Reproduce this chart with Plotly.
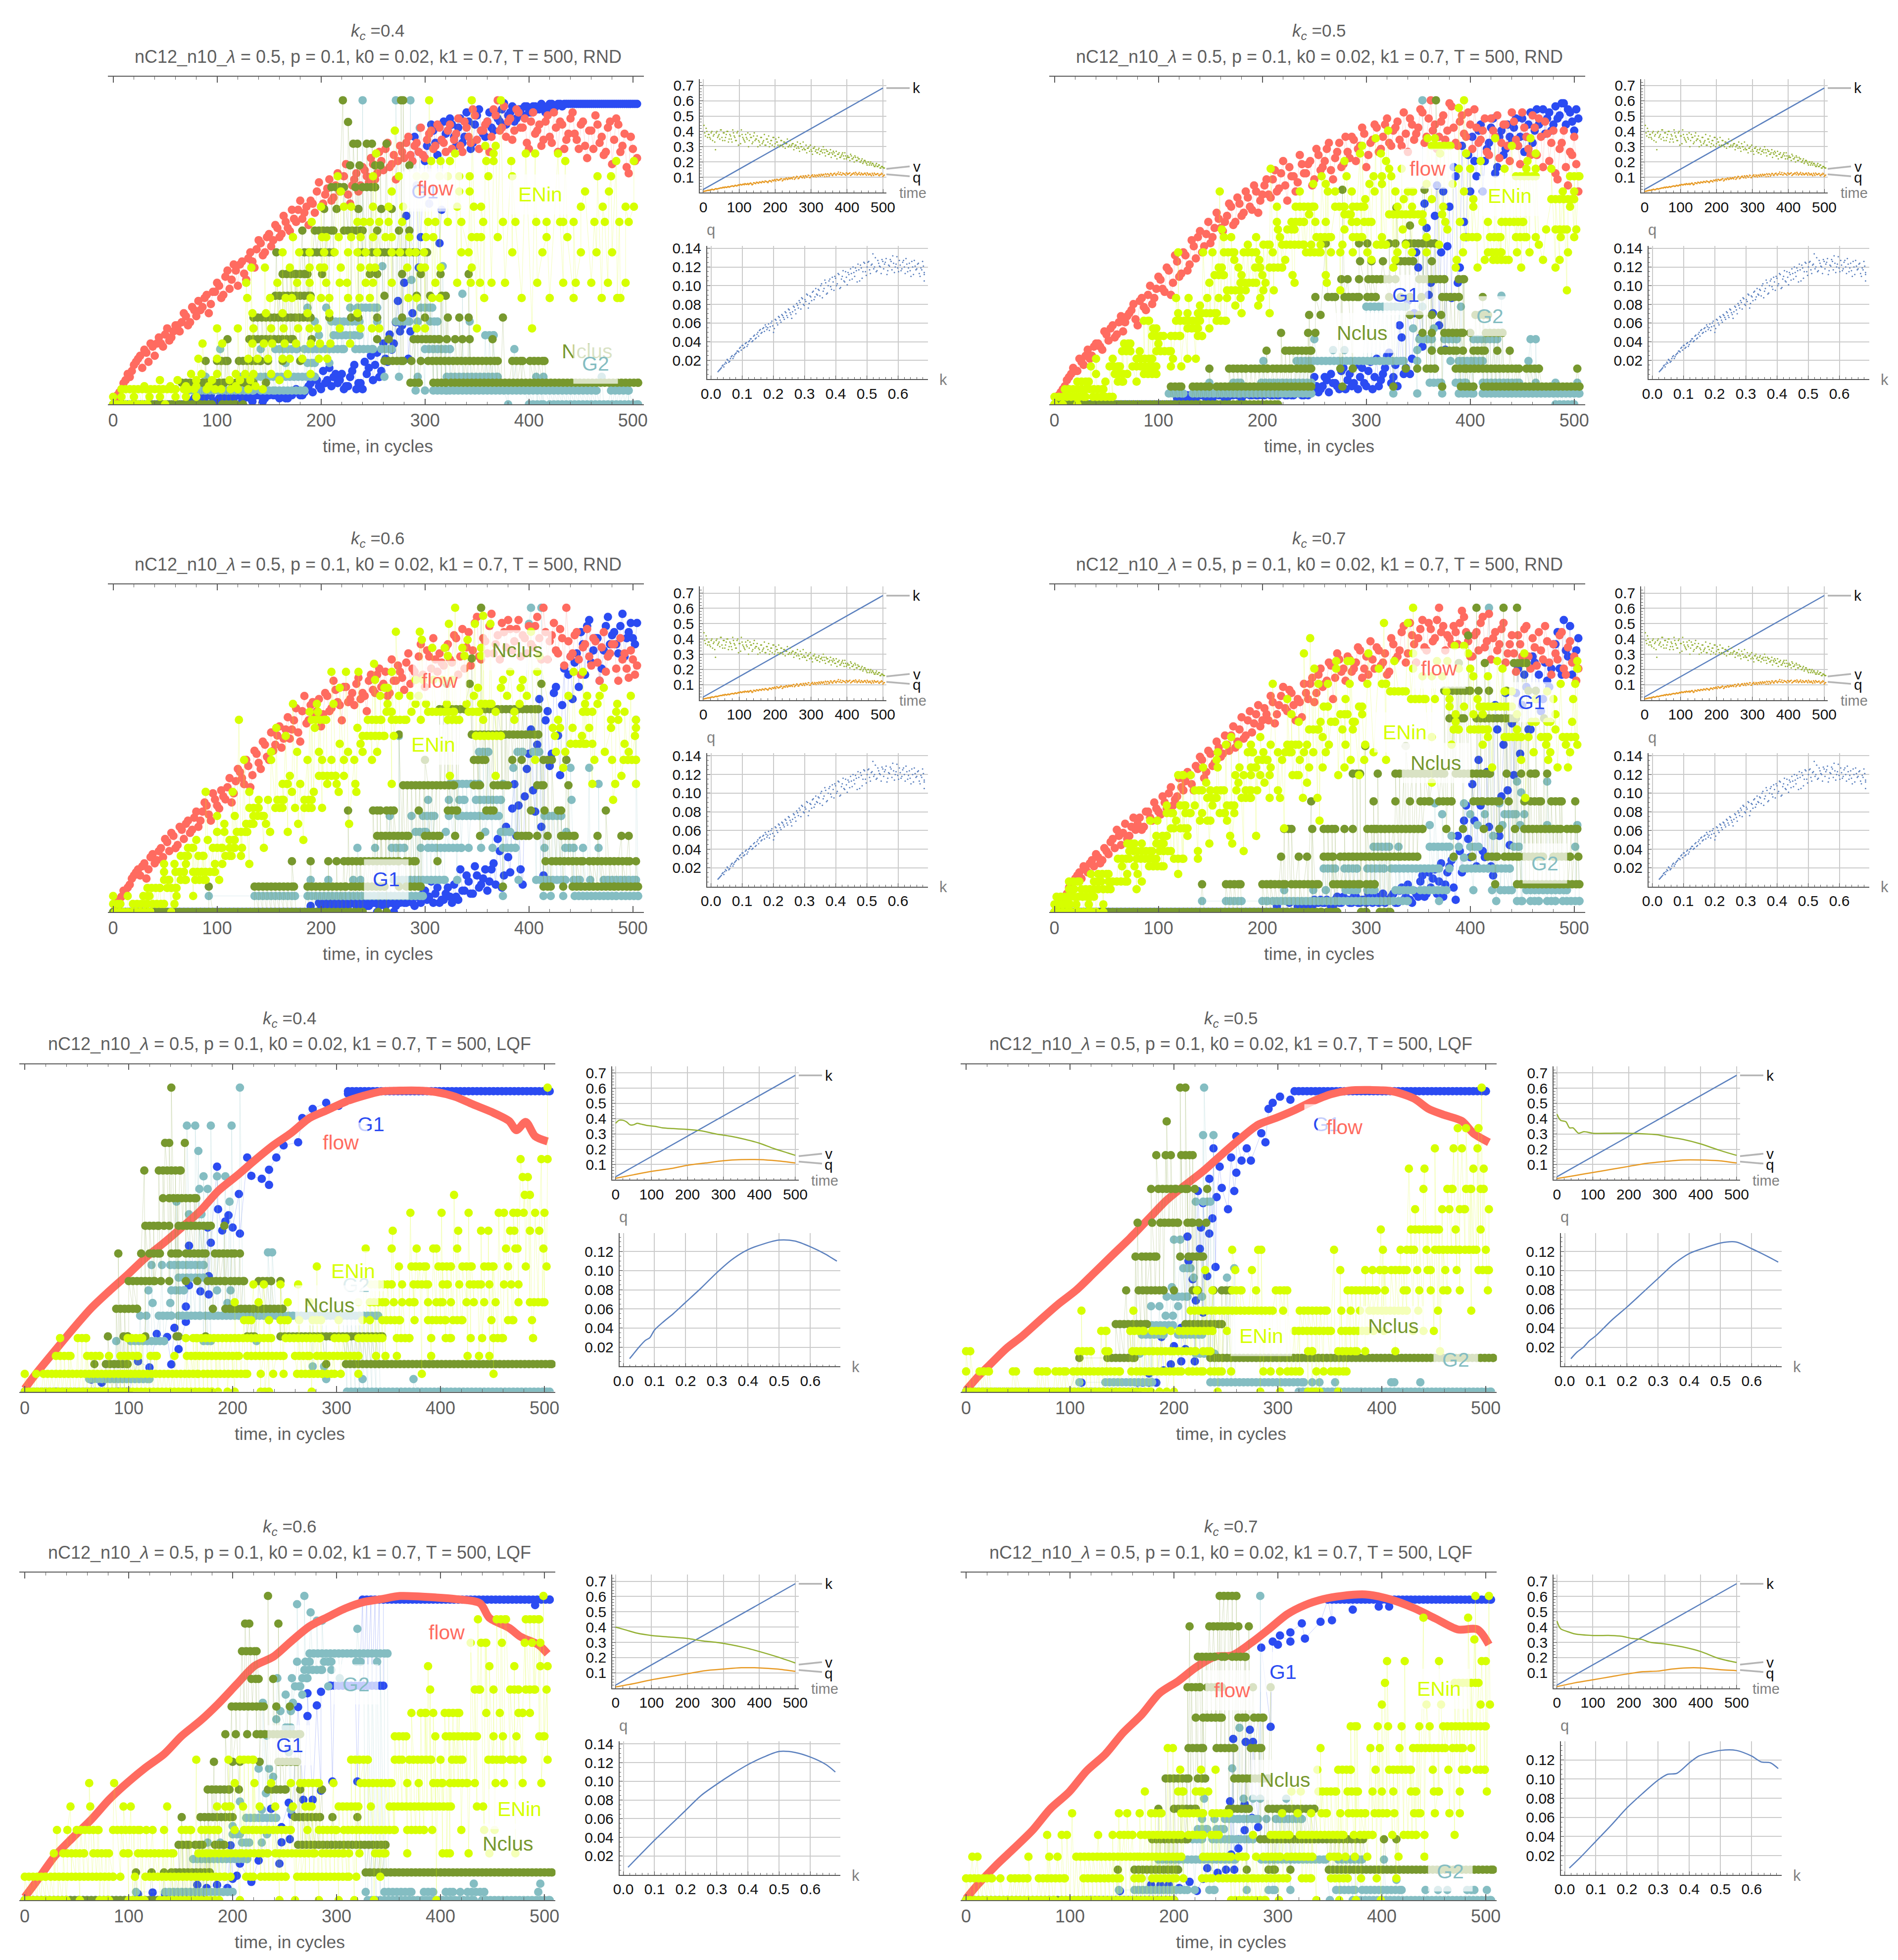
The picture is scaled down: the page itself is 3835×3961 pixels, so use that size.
import numpy as np
import plotly.graph_objects as go

W, H = 3835, 3961
PAGE = 8  # the page's own body margin
T4 = list(range(2, 506, 4))
T4B = list(range(4, 508, 4))
K_T = [0, 500]
K_Y = [0.02, 0.684]

# ---------- RND runs: flow and G1 (share of each series' maximum, %)
A_flow = [2,4,7,10,11,14,16,18,14,19, 20,20,23,21,24,26,27,29,27,31, 34,32,36,33,37,39,36,44,41,44,
46,43,48,47,51,53,50,56,54,58, 56,60,57,61,64,61,65,67,63,73, 66,71,67,72,70,75,69,72,76,72,
77,73,79,76,80,84,78,82,80,83, 86,82,85,83,82,87,90,85,91,86, 90,84,89,85,93,88,97,87,90,92,
83,97,100,91,88,94,90,96,91,86, 93,89,92,87,95,86,91,93,84,89, 96,87,92,85,90,84,92,88,83,93, 87,92,85,78,88,80]
A_flow2 = [3,5,8,9,13,15,12,17,20,16, 22,19,25,22,26,24,30,26,32,29, 31,35,30,37,40,35,42,38,46,39,
47,41,50,45,54,49,55,52,59,55, 62,58,64,60,67,63,59,66,70,65, 69,74,68,76,71,79,66,74,70,78,
75,81,74,83,77,86,79,74,85,81, 88,80,86,91,81,89,84,92,87,83, 92,87,94,83,91,86,95,84,90,93,
88,95,90,98,93,87,97,91,94,84, 96,90,85,93,88,96,83,92,87,94, 89,84,93,81,90,95,86,82,91,79, 94,83,89,76,84,81]
B_flow = [2,4,6,9,12,11,14,16,15,19, 20,18,23,25,22,27,24,29,31,28, 34,32,36,33,38,41,37,44,40,47,
43,49,46,52,55,50,56,53,58,61, 57,62,65,60,66,63,68,64,70,67, 72,69,74,70,76,72,78,75,73,79,
76,80,74,82,78,84,77,81,86,79, 83,88,80,85,89,82,87,91,84,92, 86,90,93,85,89,94,87,91,96,88,
100,92,88,95,90,98,86,93,89,96, 84,91,87,94,82,90,95,86,92,80, 93,85,96,88,82,91,94,78,89,86, 76,84,90,72,82,79]
B_flow2 = [3,5,8,10,11,15,13,18,16,20, 19,24,21,26,23,29,27,30,33,26, 35,31,39,35,42,38,45,36,49,42,
50,44,54,48,57,52,60,55,63,58, 60,66,59,68,62,70,65,72,63,69, 74,68,77,71,80,67,75,70,82,76,
79,72,84,77,80,86,74,83,78,88, 81,87,84,91,78,86,92,83,88,94, 85,91,87,96,83,92,89,97,86,94,
90,84,93,87,99,91,85,95,88,92, 97,86,90,83,94,88,81,92,85,96, 87,79,91,84,95,82,88,93,80,90, 74,86,78,83,88,70]
C_flow = [2,4,7,8,11,13,12,16,14,19, 17,21,24,20,25,22,27,29,26,31, 28,33,35,30,37,34,38,41,36,43,
46,42,48,45,52,47,55,50,53,58, 54,60,57,63,59,66,62,68,64,70, 65,71,67,73,68,74,69,72,75,70,
71,76,73,78,74,79,72,76,81,77, 82,75,79,84,78,86,80,83,85,81, 88,82,90,84,80,92,86,97,83,89,
94,85,91,95,87,93,89,96,91,85, 88,94,90,100,83,91,86,93,81,89, 85,92,78,88,84,90,82,87,79,85, 88,76,83,80,86,78]
C_flow2 = [3,5,6,9,12,14,15,11,18,16, 20,18,23,26,21,28,24,30,27,33, 30,36,32,39,35,40,37,44,39,47,
44,50,41,53,49,56,51,59,55,61, 57,64,60,67,56,71,63,69,66,61, 72,66,76,69,63,74,70,68,77,72,
66,78,72,80,75,71,83,76,79,73, 85,80,77,88,74,84,90,79,82,87, 83,91,78,93,87,81,95,84,90,85,
98,88,83,92,96,86,93,84,90,94, 87,97,83,92,89,95,85,90,100,84, 91,83,87,93,81,89,76,92,84,88, 80,90,85,77,83,81]
D_flow = [2,3,5,8,10,12,11,14,16,15, 18,17,20,23,21,25,26,24,28,27, 31,28,33,30,34,32,36,39,35,38,
41,43,45,40,47,50,46,52,49,54, 52,55,58,54,60,57,63,59,65,61, 67,63,69,65,71,67,73,68,70,64,
72,75,69,78,74,76,81,77,83,80, 84,79,82,86,80,78,83,87,81,85, 79,88,84,92,82,95,88,90,96,86,
93,90,100,94,91,88,92,95,97,89, 84,92,95,87,98,90,86,93,82,88, 85,91,84,94,80,87,92,83,89,78, 85,91,80,87,82,76]
D_flow2 = [1,4,6,7,11,13,15,13,17,19, 16,21,19,24,27,22,29,25,31,29, 27,33,31,36,33,38,34,41,37,44,
40,46,42,48,51,44,53,48,56,51, 58,53,61,56,64,58,66,62,68,63, 65,71,62,68,74,66,72,63,69,75,
70,77,72,80,75,82,70,85,79,76, 83,80,87,77,84,89,80,86,82,78, 90,83,86,94,85,91,82,93,87,95,
89,96,92,86,90,94,88,99,92,84, 91,86,97,89,83,92,88,95,85,91, 79,88,93,84,90,81,86,94,82,88, 83,92,78,89,84,80]
A_g1 = [0,0,0,0,0,0,0,0,0,0, 0,0,0,0,0,0,0,0,1,2, 1,2,0,3,1,2,3,1,2,0, 3,2,3,1,3,4,2,3,3,4,
3,2,3,4,4,3,5,7,9,6, 11,8,6,10,8,5,6,11,5,7, 14,12,8,17,11,15,23,20,34,26, 62,24,88,45,71,85,92,86,53,93,
90,92,85,94,88,93,86,95,90,88, 96,90,94,97,92,96,93,97,95,98, 96,98,97,98,97,98.8,98,98.8,98.8,98.8,
98.8,98.8,98.8,98.8,98.8,98.8,98.8,98.8,98.8,98.8, 98.8,98.8,98.8,98.8,98.8,98.8]
A_g1_2 = [0]*20 + [2,1,3,1,0,2,3,1,2,3, 1,3,2,4,3,1,3,4,3,2, 4,2,3,5,3,4,6,4,8,5, 7,12,9,7,10,6,9,13,7,5,
10,16,13,9,20,14,18,27,24,40, 15,30,72,55,80,66,90,82,64,89, 94,88,91,86,96,84,92,97,89,93,
91,96,93,99,95,98,94,97,98,96, 98,97,98.8,96,98.8,97,98.8,98,98.8,98.8,
98.8,98.8,98.8,98.8,98.8,98.8,98.8,98.8,98.8,98.8, 98.8,98.8,98.8,98.8,98.8,98.8]
B_g1 = [0,0,0,0,0,0,0,0,0,0, 0,0,0,0,0,0,0,0,0,0, 0,0,0,0,0,0,0,0,0,2, 3,0,2,3,0,3,2,3,0,3,
3,2,3,4,3,3,4,3,3,4, 3,4,3,3,4,3,4,3,4,3, 4,5,9,4,6,8,10,7,5,12, 8,6,13,9,7,11,5,15,8,12,
17,9,6,22,12,10,30,45,19,58, 40,62,26,70,52,35,75,45,60,82, 88,75,92,80,86,94,78,90,84,88,
91,85,94,88,96,90,92,97,94,90, 98,95,99,97,93,97]
B_g1_2 = [0]*30 + [2,3,0,2,3,0,3,2,0,3, 2,4,3,3,2,4,3,4,3,3, 4,3,4,3,4,3,3,4,4,3, 3,4,6,5,9,4,7,6,11,5,
10,7,5,12,6,14,9,6,10,16, 7,13,26,10,34,15,50,22,66,36, 30,72,50,18,65,78,40,85,55,70,
80,90,70,84,91,76,88,82,92,86, 94,88,83,92,86,97,93,89,96,92, 94,99,92,96,90,94]
C_g1 = [0]*40 + [0,0,0,0,0,0,0,2,0,3, 2,3,3,2,3,3,2,3,2,3, 3,2,3,0,3,2,3,0,3,4, 3,4,2,5,6,4,10,6,3,4,
8,3,5,14,7,10,6,12,9,14, 10,16,24,8,28,13,42,35,9,47, 60,33,70,12,66,52,74,45,80,78,
70,85,92,78,96,86,90,80,94,88, 92,85,98,90,95,88]
C_g1_2 = [0]*48 + [0,2, 3,2,3,3,2,2,3,3,3,2, 2,3,3,2,3,3,3,2,3,3, 4,3,5,3,7,5,3,8,4,6,
5,9,4,7,12,6,15,8,11,7, 14,9,20,12,18,34,25,14,38,52, 40,55,28,63,48,72,58,68,50,84,
82,74,88,94,82,90,76,86,97,91, 88,94,84,92,90,95]
D_g1 = [0]*50 + [0,0,0,2,0,0,3,0,2,0, 2,3,4,3,3,4,2,4,3,5, 4,3,5,3,4,6,3,5,4,3,
4,6,3,8,5,4,7,5,12,6, 8,14,10,5,13,17,4,20,30,24, 42,15,35,18,28,12,60,38,72,22,
45,80,68,74,60,82,78,70,76,80, 88,80,96,84,78,86]
D_g1_2 = [0]*58 + [2,0, 3,2,3,4,3,3,2,5,3,4, 3,5,3,4,3,5,4,3,6,4, 5,3,7,4,9,3,6,10,5,13,
11,6,16,9,15,8,25,13,35,18, 30,50,20,46,15,68,25,55,40,62, 72,52,78,60,84,70,66,82,74,88,
92,78,86,94,82,90]

# ---------- discrete series: (level, [times or (first,last) runs])
A_nc_top = 14
A_nc = [(14,[221,277,279]),(13,[226]),(12,[231,235,244,249,263]),(11,[228,237,252,257,285]),
(10,[(210,222),233,(240,252)]),(9,[203,215,236,258,268]),(8,[182,(194,212),(222,240),254,275,285]),
(7,[157,(184,212),(236,243),(249,292),(300,302)]),(6,[(163,176),(180,187),201,247,254,278,296,315,342]),
(5,[(156,190),261,292,305,316,320]),(4,[(135,190),208,229,236,254,278,300,322,333,342,375]),
(3,[110,(131,173),191,254,265,(289,314),321,329,336,343,365]),
(2,[89,(100,110),(121,142),149,163,180,(261,279),287,296,(303,370),(384,394),(401,415)]),
(1,[(66,107),(114,135),147,(286,294),(308,320),(325,505)]),(0,[(0,95),(105,118),125])]
A_g2_top = 22
A_g2 = [(22,[240,272,286]),(20,[295]),(10,[259,317]),(9,[287]),(8,[336]),(7,[187,205,228,(235,254),296,(300,307)]),
(6,[194,(210,237),254,(272,285),293,(305,312),343]),(5,[198,(212,237),(358,366)]),
(4,[103,142,(156,177),(184,222),(233,250),(258,268),(300,324),386]),(3,[166,(187,194),208]),
(2,[89,(122,194),261,275,293,(321,370),407,414,470]),
(1,[(73,110),(114,135),(142,156),(160,184),291,300,(308,321),(324,465),(479,496)]),(0,[380,(400,414),(420,505)])]
A_en_top = 20
A_en = [(20,[304,345,373]),(18,[271]),(17,[358,368]),(16.5,[253,329,366,397,406,428]),
(16,[306,315,324,359,366,383,435,484,501]),(15,[216,250,275,292,300,314,322,333,343,361,384,466,479]),
(14,[219,268,294,333,343,454,477]),(13,[200,222,229,250,265,279,331,347,354,450,471,493,501]),
(12,[191,235,241,247,256,265,278,303,310,322,335,356,375,387,407,417,430,433,443,463,473,487,496]),
(11,[173,201,205,217,229,238,250,262,268,285,301,308,345,350,354,370,417,437]),
(10,[163,179,189,203,213,226,235,243,254,268,276,285,291,299,335,342,384,413,450,465,480]),
(9,[133,146,170,189,199,203,219,238,247,252,283,296,300,315,345]),
(8,[128,158,177,189,205,218,225,243,250,268,310,331,344,353,364,377,408,433,445,460,476,493]),
(7,[129,151,166,172,190,200,208,226,237,247,284,292,307,314,357,393,420,443,470,485,488]),
(6,[134,147,163,187,208,235]),(5,[100,120,135,152,164,178,189,197,218,238,249,256,292,300,350,403]),
(4,[86,105,134,145,153,165,176,190,199,209,228]),(3,[82,100,130,139,149,163,170,182,198,206]),
(2,[75,85,100,118,127,135,152,168,190]),(1.6,[45,62,80,95,112,122,132,160]),(1.2,[30,55,70,80,92,118,137]),
(1,[(8,60),(68,72),78,90,98,104,113,120,130,144]),(0.5,[0,8,20,35,45,60,70,80]),(0,[(0,33),50])]

B_nc_top = 17
B_nc = [(17,[367]),(12,[277,356]),(11,[329]),(10,[342]),(9,[261,293,301,322,328,(338,366)]),(8,[294,305,316,(329,345),363]),
(7,[276,282,293,(302,322),328,(351,375),(389,394)]),(6,[251,(263,270),(279,293),(301,309),322,333,342,353,(373,389),412]),
(5,[245,256,342,351,363,372,(405,417)]),(4,[218,244,251,354,363,(375,393),400,(415,431)]),
(3,[204,(222,247),363,(372,387),393,(403,414),426,438]),
(2,[149,(168,184),(189,205),(210,228),(233,247),275,287,338,349,(358,366),(386,396),(396,447),(454,466),503]),
(1,[(112,122),(133,149),(156,247),277,326,373,(391,403),(413,505)]),(0,[(0,215)])]
B_g2_top = 28
B_g2 = [(28,[354]),(10,[430]),(9,[(300,338),354,391]),(7,[345,365]),(6,[250,(351,363),(375,387),(403,426),458,463]),
(5,[268,279,349,363]),(4,[201,(233,336),349,381,(389,412),456]),
(2,[149,(172,179),(199,247),(361,372),(386,396),(412,447),463,482,503]),
(1,[(110,124),(133,177),(179,247),326,349,373,(389,403),(412,505)]),(0,[(482,500)])]
B_en_top = 40
B_en = [(40,[394]),(39,[389]),(36,[321]),(35,[309,359,366,424,458]),(34,[296,(363,381),440]),(33,[294,314,371,396,463]),
(32,[279,319,410,455]),(31,[208,322,334,389,400,433,454,463,478]),(30,[257,281,307,315,324,(444,463),(496,505)]),
(29,[249,261,303,315,358,383]),(28,[159,236,263,270,286,308,328,(340,345),394,489,500]),(27,[299,336,363,403,(478,500)]),
(26,[214,(232,250),(270,279),(287,298),330,344,374,403,496]),(25,[245,(279,285),(322,354),373]),
(24,[214,(228,240),251,261,286,291,(298,305),354,376,390,417,(430,451)]),(23,[161,215,(224,231),279,335,378,473,(482,493),502]),
(22,[163,170,194,217,(252,266),(287,296),315,358,(394,407),(419,429),(444,454),463,487,500]),
(21,[186,(201,207),(219,240),247,256,277,(310,319),338,370,466]),
(20,[119,143,152,(163,173),(182,194),210,(242,256),266,275,287,301,330,344,358,393,(417,430),445,457,494]),
(19,[173,197,222,305,328,387,414,(422,437),470,486]),(18,[(158,161),177,(193,198),(207,219),326,386,407,449,482]),
(17,[(154,163),180,200,229,261]),(16,[149,(179,194),203,231,262]),(15,[(166,179),184,201,211,275,493]),
(14,[117,129,147,158,166,179,198]),(13,[140,174,196]),(12,[119,128,(138,156),180,207]),(11,[(86,91),(117,140),(156,165)]),
(10,[(95,98),(128,138),149]),(9,[(94,105),(112,121),(138,142)]),(8,[(67,73),100]),(7,[(65,73),82,(98,112)]),
(6,[40,56,(79,94),114,128,136]),(5,[35,(53,63),(75,98),112,122]),(4,[40,(58,70),(86,98)]),(3,[(22,33),49,(61,66),79]),
(2,[(10,47)]),(1,[(0,30),(37,56)]),(0,[0,8,22])]

C_nc_top = 12
C_nc = [(12,[354]),(10,[345]),(9,[321,343,412]),(8,[(314,338),(358,409)]),(7,[275,(345,409)]),(6,[300,(347,358),384,393,(414,422),436]),
(5,[(279,328),(347,353),(366,380),(408,414),438]),(4,[226,(250,257),(263,270),294,(322,331),(359,366),402,415,(428,431),474]),
(3,[(254,284),(300,314),329,353,(389,400),408,418,(431,444),466,489,496]),
(2,[172,190,207,215,(222,275),(281,291),312,416,(422,452),(458,497),503]),
(1,[92,(136,174),(187,224),(229,261),275,(282,296),375,(414,421),433,(442,482),(486,505)]),(0,[(0,240),255,263])]
C_g2_top = 19
C_g2 = [(19,[402,412]),(18,[400]),(12,[503]),(11,[275]),(10,[(352,361),(389,394),(404,410)]),(9,[385,440,458]),
(8,[(324,352),375,467]),(7,[303,323,(333,338),(349,373),441]),(6,[266,287,(298,309),323,(332,371),(415,431)]),
(5,[(291,301),320,358,(373,382),436]),(4,[235,252,(268,280),296,(303,335),342,354,365,(375,387),415,(435,443),452,467]),
(2,[190,207,231,238,(270,319),331,390,(407,435),(443,449),459,(472,503)]),
(1,[92,(136,175),(187,298),375,414,421,433,(444,484),(489,505)])]
C_en_top = 38
C_en = [(38,[329]),(37,[356]),(36,[323,348,363]),(35,[272,295,402]),(34,[297,341]),(33,[307,319,336,354]),(32,[322,338,354,410]),
(31,[251]),(30,[210,224,236,268,382,408,443,452]),(29,[252,291,298,308,317,326,375,394]),(28,[218,261,264,351,373,392,472]),
(27,[257,275,286,294,347,379,398,438,456,468,498]),(26,[173,196,212,264,291,301,321,340,(354,364),391,454,466,485]),
(25,[189,197,(263,268),287,(303,328),(342,352),368,386,452,456,461,484,492]),
(24,[121,(191,205),(245,258),(268,282),296,(322,333),356,386,428,479,486,503]),(23,[157,194,235,423,430,442,458,479,503]),
(22,[166,(240,261),270,(349,373),425,451,502]),(21,[218,238,440,(445,455),461,492]),(20,[152,177,198,226,240,254,435,426,473,496]),
(19,[126,152,187,201,210,222,232,249,406,463,480,(491,503)]),(18,[433]),(17,[170,(198,214),222,324,368,489]),
(16,[(163,168),180,206,215,233,268,461,483,503]),(15,[89,115,131,172,193,217,234]),(14,[140,149,(158,164),(184,191),481]),
(13,[(131,140),(156,163),175,(184,191),201]),(12,[100,117,(135,145)]),(11,[107,(128,135),147,178,227]),
(10,[100,107,(119,129),151,168]),(9,[80,91,(112,117),183]),(8,[(72,77),(96,105),(112,117),124,145]),
(7,[(65,72),(82,87),(108,114),123]),(6,[49,59,70,98,105,131]),(5,[49,(60,68),(77,98)]),(4,[(49,54),(65,70),(79,89),102]),
(3,[(33,45),(52,61)]),(2,[0,14,(29,35),61,77]),(1,[(0,7),(19,33),(38,49),59]),(0,[(2,36),56])]

D_nc_top = 11
D_nc = [(11,[406,432,445]),(10,[398]),(9,[389,414,(442,454)]),(8,[(375,400),408,418,435,456,463]),
(7,[(380,394),(406,444),471]),(6,[299,338]),(5,[(287,294),311,(328,375),(386,419),435,449,(458,463),474]),
(4,[247,307,328,342,(352,361),(370,382),(403,412),(417,428),437,452,(458,468),(478,488),501]),
(3,[(221,228),248,(259,270),279,287,(301,308),(310,354),377,393,413,428,443,(452,487),(493,503)]),
(2,[218,235,243,(259,268),(275,287),(291,333),(337,349),384,402,(417,426),(433,447),(452,470),(480,496),504]),
(1,[142,(165,179),(200,208),(212,222),(228,254),(268,294),(300,308),424,(445,482),(486,505)]),
(0,[(0,257),(262,272),(295,300),(313,323)])]
D_g2_top = 28
D_g2 = [(28,[418]),(12,[445,474]),(11,[449]),(10,[366,394,428]),(9,[373,400,414,(433,444),452]),(8,[361,407,431,448,474,503]),
(7,[382,422]),(6,[(307,322),331,(361,380),389,(400,408),(442,447),501]),(5,[394,384]),
(4,[(259,270),(279,291),(301,317),(324,370),380,(393,417),(422,438)]),
(2,[221,249,261,(280,291),(301,308),(328,345),(352,361),(365,377),403,421,(429,440),(454,493)]),
(1,[142,(165,180),(200,205),(210,326),(331,340),370,425,(445,450),(458,466),(474,482),(489,505)])]
D_en_top = 40
D_en = [(40,[345]),(38,[317,340]),(36,[246]),(35,[385,394]),(34,[240,302,345,398,452]),(33,[271,(282,285),327,368,378,426,503]),
(32,[250,271,312,345,389,400,431,503]),(31,[354,363,373,403,417]),(30,[210,254,263,301,(315,319),284,487,501]),
(29,[(323,338),377,433,440,474]),(28,[224,280,(343,357),366,380,407,463,480,499]),(27,[(259,263),(293,296),380,394,(409,440)]),
(26,[228,(275,282),296,386,403,412,445,482]),(25,[235,256,(266,270),(287,289),386,(459,463),(474,477),498]),
(24,[(245,254),277,287,(384,389),(400,417),445,482]),(23,[170,198,258,363,417,(433,449),456,(468,475),(489,501)]),
(22,[165,177,189,208,(224,235),243,264,280,299,382,412,473,492,503]),(21,[157,(186,191),201,215,(222,228),240,249,261,307,461,477,496]),
(20,[156,(196,205),219,236,285,298,319,449,475]),(19,[143,157,178,(189,194),208,245,258,279,421,484,494]),
(18,[(119,124),131,174,182,189,198,207,(229,235),273,293]),(17,[146,177,202,243,363]),(16,[(135,142),150,(156,163),175,(184,189),195,215]),
(15,[(147,156),(180,189),207,217,239,253,453]),(14,[108,(121,126),135,152,(166,173)]),(13,[(108,114),(126,131),142,(159,164),173]),
(12,[92,99,117,140,(147,150),166,255]),(11,[(112,115),(121,128),221]),(10,[98,(104,108),128,169,194]),(9,[(70,77),84,(98,105),149,171]),
(8,[(72,94),(101,112),138,182]),(7,[(61,72),(79,98),(115,124),138]),(6,[65,77,(91,105)]),(5,[35,(42,52),70,80,119]),
(4,[(14,24),(38,45),(52,70),84]),(3,[(14,19),(26,42),(47,54),79]),(2,[(2,12),(15,38)]),(1,[(0,15),21,33,47]),(0,[(0,40),47])]

# ---------- LQF runs
E_flow_t = [0,11,29,46,64,81,99,116,134,151,169,186,204,221,239,256,274,291,309,326,344,361,379,396,414,431,449,466,473,482,491,503]
E_flow_y = [1,6,13.5,20.5,27.5,33,38.5,44,49,54,59.5,66,71,76,81,85,90,92.6,95.4,97.3,98.8,99,99,98.5,97,94.5,92,89,86,88.7,84,82.3]
F_flow_t = [0,11,22,39,53,71,88,106,123,141,158,176,193,211,228,246,263,281,298,316,333,351,368,389,410,431,445,460,477,488,503]
F_flow_y = [0.5,4.8,8.6,14.3,18,23.5,28.6,33.4,39,45,50.6,57,63,68,72.5,78,83,87.8,90,92.6,95.4,97.8,99,99.2,98.8,96.4,93,91,89,85,82]
G_flow_t = [0,11,29,46,64,81,95,116,134,151,169,186,204,221,239,256,274,291,309,326,344,361,396,414,438,447,466,477,494,503]
G_flow_y = [1,6,14.5,20.5,26.5,33,37.5,43.5,48,54,59,64.5,71,77,80,85,90,93,96,98,99,100,99.5,99,97.6,92.8,89.5,86.6,84,81]
H_flow_t = [0,11,29,46,64,81,99,116,134,151,169,186,204,221,239,256,274,291,309,326,344,361,384,407,431,452,473,492,503]
H_flow_y = [0.5,5,11.5,17,23,30,35.5,42.5,48,55,61,68,72,76.5,80,80.5,84.5,89,94,97,99,100,100.5,99,96,92.5,89,89,84]

E_g1_t = [0,30,60,64,74,88,90,98,109,120,127,137,141,144,148,155,155,158,158,169,177,177,176,179,185,186,190,193,196,200,207,206,214,218,228,235,235,242,249,263,267,277,290,302,311]
E_g1_y = [0,0,0,4,3,5,0,0,10,8,19,18,9,21,14,23,28,48,35,33,38,32,54,49,74,60,53,56,58,54,52,65,77,71,70,73,68,77,81,82,90,93,95,94,98]
F_g1_t = [0,40,80,120,160,111,165,170,176,183,176,190,197,207,200,211,188,207,220,228,221,218,232,214,225,240,213,234,226,237,228,241,223,252,234,246,258,244,260,238,255,265,274,270,288,260,284,291,295,302,312]
F_g1_y = [0,0,0,0,0,3,3,3,3,3,6,7,9,10,15,14,18,21,10,26,30,37,38,43,47,41,51,52,54,57,62,64,66,60,70,67,66,74,72,80,77,76,76,80,82,84,85,93,95,97,96]
G_g1_t = [0,40,80,120,170,109,123,135,166,175,185,195,200,204,218,225,207,198,247,245,237,254,257,247,255,268,277,285,296,320,272,263,281,272,285,294,491]
G_g1_y = [0,0,0,0,0,2,2.5,2,5,4,5,4,7,8,6,13,12,18,19,12,30,32,28,24,20,33,33,36,39,39,60.5,63.5,64,68,68.5,70.5,97]
H_g1_t = [0,40,80,120,160,200,148,178,187,195,205,215,228,232,222,242,250,258,255,262,268,262,254,268,275,281,257,269,276,273,293,284,295,302,300,312,312,326,323,341,352,372,397,407]
H_g1_y = [0,0,0,0,0,0,3,5,5,5,4,6,7,10.5,3,9,10,10,15,17,23,20,32.5,31.5,27,24,53,52,52,56,57,83,85,87,84,88,85,86,91,91.5,92,95.5,96.5,96.5]
E_g1_zero = [(0,90),(95,100)]
F_g1_zero = [(0,165)]
G_g1_zero = [(0,175)]
H_g1_zero = [(0,200)]
E_g1_plateau = [(311,505)]
F_g1_plateau = [(316,500)]
G_g1_plateau = [(325,505)]
G_g1_shelf = [(294,345)]
H_g1_plateau = [(348,505)]

E_nc_top = 11
E_nc = [(11,[141]),(9,[135,139,154]),(8,[115,(129,150)]),(7,[133,(139,165)]),(6,[(116,129),134,139,(148,179),192]),
(5,[90,112,(120,130),(141,148),(155,174),(183,202),207]),(4,[(100,125),131,139,155,166,(176,193),(198,211),(225,237),246]),
(3,[(88,108),181,(193,200),(204,228),(232,248)]),(2,[80,(95,99),116,(146,148),174,(214,221),(246,344)]),
(1,[67,(78,99),290,(309,507)]),(0,[(0,100)])]
E_g2_top = 24
E_g2 = [(24,[207]),(21,[156,164,179,199]),(19,[167]),(17,[172,185,193]),(16,[168,176]),(15,[146,197]),(14,[158,167,170]),
(11,[234,238]),(10,[122,132,(140,172)]),(9,[(148,172)]),(8,[119,(141,153),185,198]),(7,[123,140,195]),
(6,[111,117,(129,141),(148,169),(174,340)]),(4,[88,(102,134),(172,179),223]),(2,[277,288]),(1,[(62,120),290,325,374]),(0,[(310,505)])]
E_en_top = 17
E_en = [(17,[503]),(13,[477,497,503]),(12,[479,484]),(11,[413,481,486]),(10,[371,401,427,456,461,470,474,480,491,500]),
(9,[354,417,439,446,467,471,486,495]),(8,[328,353,377,393,396,416,463,472,474,499]),
(7,[281,360,(372,386),(398,410),(421,430),(442,451),465,482,502]),
(6,[220,230,246,263,(333,353),363,(374,388),(402,407),418,(428,439),447,461,468,475]),
(5,[202,225,253,274,321,(332,347),355,363,(370,375),388,(396,402),410,425,432,442,453,475,(486,500)]),
(4,[(211,218),235,(246,253),264,(277,285),302,325,332,(344,361),375,(388,405),(412,421),449,(465,470),488]),
(3,[34,(51,59),(99,113),155,165,(162,237),(251,284),(298,309),(321,344),(358,370),391,(405,410),429,440,(451,460),489]),
(2,[(30,44),(60,72),81,(92,109),(121,127),144,(156,206),(214,249),(260,274),(281,321),338,347,358,391,426,437,447]),
(1,[0,11,(18,167),(172,214),227,239,249,(262,286),(291,298),304,321,382,451]),(0,[(0,180),186,195,202,(227,235),276])]

F_nc_top = 9
F_nc = [(9,[206,211]),(8,[193]),(7,[183,192,197,(207,218)]),(6,[178,(185,202),(207,213),220,232]),(5,[165,179,(187,204),(213,218),224,231]),
(4,[163,(169,183),206,(214,228)]),(3,[154,(166,190),200,(218,223),238,(246,254)]),(2,[(144,174),(211,246)]),(1,[109,(136,162),(235,507)]),(0,[(0,100)])]
F_g2_top = 32
F_g2 = [(32,[229]),(27,[228,238]),(20,[221,(228,235)]),(16,[200,206]),(13,[(209,216),258]),(12,[219,251]),(11,[198]),
(10,[193,(200,213),227]),(9,[178,186,204]),(8,[192,199]),(7,[(179,199),(221,238)]),(6,[(169,190),(204,227)]),(4,[167,(221,239)]),
(1,[109,(134,179),(235,325),333,340,355,(409,412),437]),(0,[(320,505)])]
F_en_top = 15
F_en = [(15,[496]),(13,[473,481,493]),(12,[451,469,477,492]),(11,[426,441,488,498]),(10,[440,(463,468),(481,486),(495,498)]),
(9,[432,458,465,(475,480),503]),(8,[399,(428,455),471,495]),(7,[256,(281,284),354,401,418,(424,431),443,(451,475),(480,491),500]),
(6,[230,259,275,360,384,391,(398,403),(409,424),434,(444,447),461,472,(493,503)]),
(5,[222,237,(256,265),279,(298,309),(367,395),403,(421,424),436,447,(459,463),475,502]),
(4,[111,161,(216,295),305,(321,347),361,370,379,(388,424),435,454,486]),
(3,[(130,135),(158,171),(179,190),197,(205,237),251,(316,351),(361,386),392,402,430,440,450]),
(2,[0,4,(108,120),(134,137),(160,197),(200,221),(228,235),(329,333),(358,376),384,413,456]),
(1,[0,(13,22),(45,48),(69,78),(86,96),(103,148),159,(164,207),(214,228),(235,246),255,286,293,302,(309,321),337,344,(351,366)]),
(0,[(0,178),186,193,200,242,283,302,(329,340),358])]

G_nc_top = 11
G_nc = [(11,[234]),(10,[212,216,244]),(9,[(209,223)]),(8,[(218,225),239]),(7,[(199,230),242,255]),(6,[193,203,214,(223,265)]),
(5,[182,200,207,226,(244,262)]),(4,[(176,197),206,(234,251),265,286]),(3,[151,(169,200),(260,284),296,320]),
(2,[(148,158),(164,171),(183,192),(263,347)]),(1,[107,122,134,(141,178),(328,507)]),(0,[(0,175)])]
G_g2_top = 37
G_g2 = [(37,[269]),(36,[262]),(35,[275]),(34,[281,286]),(33,[320]),(30,[(274,349)]),(29,[262,(270,274),(288,295),(319,323),339]),
(28,[(269,286),295]),(27,[243,257,(267,272),303]),(26,[(260,265),292]),(25,[251,267]),(24,[229,258]),(23,[246,256]),(22,[242]),
(21,[251,(253,256)]),(20,[233]),(18,[254]),(16,[225,235]),(15,[239]),(13,[232]),(12,[207]),(11,[228,256]),(10,[(213,242)]),(9,[200]),
(8,[(200,207),233]),(7,[176,188,(209,216),228]),(5,[(162,214)]),(2,[432,496]),
(1,[107,(135,200),328,(346,372),(384,393),(405,412),419,(426,442),494]),(0,[(330,432),(440,505)])]
G_en_top = 13
G_en = [(13,[499]),(12,[436,(454,463),(482,495)]),(11,[429,(439,444),459,481,488,496]),(10,[388,447,471,496,503]),
(9,[390,(433,438),451,(467,475),(482,491),502]),(8,[372,(381,386),393,(404,418),444,457,(475,479),486]),
(7,[(356,367),395,(405,435),451,460,473,(495,500)]),
(6,[165,196,(207,220),(314,330),(356,363),(370,391),400,(411,421),(446,460),(467,472),479,503]),
(5,[62,86,202,221,237,256,(265,283),297,(323,353),368,379,(393,402),(409,426),433,453,461,479,497]),
(4,[44,63,95,102,137,185,(193,198),210,226,241,258,(270,276),(302,321),333,(351,410),435,441]),
(3,[31,41,(50,71),(85,111),117,123,134,(151,160),(170,186),202,(211,256),272,(283,300),(307,356),(368,384),392,420,442,452]),
(2,[28,(37,57),(66,81),(95,100),(109,143),(167,209),(213,234),(241,279),(286,307),312,322,(337,347),368,(402,409),427,447,472]),
(1,[(0,20),(25,85),92,106,(116,193),198,(213,220),(227,251),(262,312),319,342]),
(0,[(0,40),53,(72,81),(100,115),(130,170),(175,187),207,245,260,283,302,317,336,396])]

H_nc_top = 10
H_nc = [(10,[(244,260)]),(9,[215,(234,256),262,272]),(8,[(223,239),246,249,(256,269)]),(7,[(213,225),(232,246),276,293]),
(6,[221,(228,246),(262,269),(277,286)]),(5,[(214,228),(241,258),(274,284)]),(4,[(192,214),(223,230),(258,291)]),
(3,[185,(200,221),(253,272),(291,335)]),(2,[(179,213),(283,382),402,414]),(1,[146,(162,204),270,(291,297),312,(349,507)]),(0,[(0,200)])]
H_g2_top = 30
H_g2 = [(30,[283]),(17,[263]),(13,[256]),(10,[229,267,276,283,308]),(8,[227,239,(249,263),(267,281),289,(298,323)]),(7,[(223,232),(241,248)]),
(6,[(218,227),(237,253),(256,276)]),(4,[(185,259),(284,346),(358,381),402]),(2,[414]),
(1,[147,(162,213),220,(234,239),270,(291,297),312,(356,374),(381,419),442,454,463,(482,489),501]),(0,[350,(372,505)])]
H_en_top = 14
H_en = [(14,[490,503]),(13,[440,483]),(12,[489]),(11,[405,422,455,496,500]),(10,[403,(470,493)]),(9,[400,443,457,495,504]),
(8,[(370,376),396,406,419,436,446,(459,500)]),(7,[194,199,341,389,398,417,(430,461),(468,478),486]),
(6,[206,226,240,338,(358,370),394,(407,428),449,464,(477,482),(491,499)]),
(5,[172,(204,209),(221,227),233,313,322,(339,356),(367,377),391,400,411,(428,433),(450,455),475,501]),
(4,[102,147,155,167,(178,188),(207,228),(237,253),304,319,332,(342,347),360,(368,384),(393,405),412,(431,437),451,465,475]),
(3,[78,92,97,127,141,(148,160),(168,207),(214,228),(236,243),276,(293,311),(321,363),373,(379,391),410,(421,433),441,470]),
(2,[6,11,60,80,88,(106,165),(167,207),(228,255),(262,269),279,(286,302),(309,333),(350,358),365,374,386,416,441]),
(1,[(0,25),33,(43,59),(70,95),(113,148),(162,169),(179,202),209,(227,237),(243,277),(281,309),(323,332),(351,367),380,395,414]),
(0,[(0,85),(92,114),(118,200),(255,288),301,337,359,375,399])]

# ---------- small panels
RND_q = [.008,.010,.012,.015,.016,.017,.020,.019,.024,.022, .026,.028,.030,.033,.031,.036,.034,.039,.037,.041,
.043,.041,.047,.044,.050,.052,.049,.054,.051,.056, .055,.052,.060,.057,.054,.063,.058,.066,.061,.068,
.064,.071,.066,.074,.069,.072,.077,.070,.079,.084, .075,.086,.079,.083,.09,.081,.088,.093,.085,.097,
.09,.095,.1,.087,.097,.103,.092,.105,.099,.109, .095,.108,.102,.112,.098,.11,.105,.115,.101,.112,
.118,.107,.114,.119,.104,.117,.122,.108,.125,.115, .12,.126,.113,.123,.118,.13,.116,.124,.12,.128,
.118,.125,.112,.122,.128,.117,.124,.12,.131,.115, .122,.118,.127,.113,.123,.119,.116,.126,.112,.121, .118,.124,.11,.117,.121,.112]
RND_q2 = [.009,.011,.014,.013,.018,.021,.018,.022,.025,.024, .027,.03,.029,.034,.036,.033,.038,.035,.04,.043,
.04,.046,.043,.048,.046,.053,.05,.055,.058,.053, .059,.056,.062,.05,.064,.06,.067,.063,.069,.066,
.072,.068,.075,.071,.065,.078,.074,.081,.076,.082, .087,.08,.085,.091,.076,.089,.084,.094,.088,.091,
.096,.089,.102,.094,.106,.091,.1,.107,.096,.104, .11,.1,.113,.097,.107,.116,.104,.109,.114,.106,
.113,.12,.11,.116,.123,.105,.119,.115,.124,.111, .125,.117,.122,.134,.12,.115,.127,.121,.113,.126,
.123,.129,.116,.121,.126,.132,.114,.123,.119,.127, .116,.125,.12,.129,.115,.124,.11,.12,.127,.117, .123,.113,.119,.126,.105,.114]
RND_v = [.44,.37,.4,.38,.36,.39,.34,.38,.28,.4, .37,.35,.41,.34,.39,.36,.4,.33,.38,.35, .41,.37,.34,.39,.31,.37,.41,.36,.34,.38,
.35,.3,.38,.36,.33,.39,.35,.37,.34,.31, .36,.33,.38,.31,.35,.37,.32,.34,.36,.3, .35,.33,.36,.31,.34,.3,.33,.32,.35,.3,
.34,.31,.32,.3,.31,.33,.29,.32,.3,.33, .28,.31,.29,.3,.31,.27,.29,.3,.28,.26, .29,.27,.28,.3,.26,.28,.27,.25,.28,.26,
.27,.24,.27,.25,.26,.23,.25,.24,.26,.22, .24,.23,.25,.22,.23,.24,.21,.23,.22,.2, .22,.2,.21,.19,.2,.18,.2,.19,.18,.17, .19,.17,.18,.16,.17,.16]
RND_v2 = [.39,.42,.36,.38,.35,.4,.37,.33,.39,.36, .38,.41,.36,.39,.34,.38,.4,.35,.37,.33, .39,.36,.34,.4,.37,.32,.38,.35,.33,.36,
.39,.34,.36,.32,.37,.34,.35,.3,.33,.36, .32,.34,.31,.35,.33,.3,.34,.31,.36,.32, .33,.31,.3,.34,.31,.33,.29,.32,.3,.31,
.3,.32,.28,.31,.29,.3,.27,.3,.28,.29, .28,.26,.29,.27,.28,.25,.29,.27,.26,.28, .25,.27,.26,.28,.24,.27,.25,.26,.23,.25,
.26,.24,.22,.25,.23,.24,.26,.22,.24,.23, .23,.21,.24,.22,.2,.23,.21,.22,.2,.21, .19,.21,.2,.18,.2,.19,.18,.19,.17,.18, .17,.18,.16,.17,.165,.16]
E_v_t = [0,10,20,30,40,50,60,70,90,110,130,160,200,240,280,320,360,400,440,480,500]
E_v = [.37,.39,.39,.38,.36,.36,.37,.365,.355,.35,.34,.335,.33,.32,.30,.285,.265,.24,.205,.175,.16]
E_q_t = [0,50,100,150,200,250,300,350,400,450,500]
E_q = [.01,.033,.055,.072,.095,.11,.125,.132,.132,.124,.11]
F_v_t = [0,10,25,35,45,60,75,100,150,200,250,280,310,350,400,450,500]
F_v = [.43,.39,.38,.34,.34,.305,.315,.305,.305,.305,.30,.295,.28,.265,.235,.195,.16]
F_q = [.008,.028,.048,.068,.088,.108,.12,.13,.13,.125,.11]
G_v_t = [0,30,60,100,150,200,240,280,320,360,400,450,500]
G_v = [.40,.38,.36,.345,.335,.325,.31,.30,.285,.265,.24,.205,.165]
G_q = [.008,.03,.055,.075,.095,.115,.125,.134,.133,.125,.11]
H_v_t = [0,10,30,50,100,150,180,210,235,260,300,350,400,450,500]
H_v = [.44,.39,.37,.355,.345,.345,.34,.325,.32,.30,.29,.27,.24,.195,.168]
H_q_t = [0,50,100,150,200,240,280,320,360,400,450,500]
H_q = [.01,.035,.055,.075,.095,.108,.112,.125,.133,.133,.122,.115]
E_qk_k = [.02,.03,.05,.07,.085,.1,.13,.16,.2,.25,.3,.35,.4,.45,.5,.55,.6,.65,.66,.685]
E_qk_q = [.008,.012,.02,.027,.03,.038,.047,.055,.067,.082,.098,.112,.122,.128,.132,.131,.125,.117,.115,.11]
F_qk_k = [.02,.04,.06,.08,.1,.15,.2,.25,.3,.35,.4,.45,.5,.55,.6,.65,.685]
F_qk_q = [.008,.015,.02,.027,.032,.048,.062,.077,.092,.107,.118,.124,.129,.13,.123,.115,.109]
G_qk_k = [.015,.05,.1,.15,.2,.25,.3,.35,.4,.45,.5,.55,.6,.65,.68]
G_qk_q = [.008,.02,.037,.053,.069,.085,.097,.108,.118,.126,.132,.131,.126,.118,.11]
H_qk_k = [.015,.05,.1,.15,.2,.25,.3,.33,.36,.4,.43,.47,.5,.55,.6,.63,.66,.685]
H_qk_q = [.007,.018,.035,.052,.07,.085,.099,.105,.106,.117,.124,.128,.13,.13,.124,.118,.117,.111]

KC = ["0.4", "0.5", "0.6", "0.7", "0.4", "0.5", "0.6", "0.7"]
ALG = ["RND"] * 4 + ["LQF"] * 4
X0 = [228.6, 2130.6, 228.6, 2130.6, 50, 1952, 50, 1952]
TOP = [155.3, 155.3, 1181, 1181, 2150.6, 2150.6, 3178, 3178]

LABELS = [
 [("G1",300,70),("flow",310,71),("ENin",411,69),("Nclus",456,17.5),("G2",464,13.4)],
 [("flow",359,77.5),("ENin",438,68.6),("G1",338,36),("Nclus",296,23.4),("G2",419,29)],
 [("Nclus",389,86),("flow",314,76),("ENin",308,55),("G1",263,10.7)],
 [("flow",370,80),("G1",459,69),("ENin",337,59),("Nclus",367,49),("G2",472,16)],
 [("G1",333,88),("flow",304,82),("G2",319,35),("ENin",316,39.6),("Nclus",293,28.4)],
 [("G1",347,88),("flow",364,87),("ENin",284,18.4),("Nclus",411,21.5),("G2",471,10.5)],
 [("flow",406,88),("G2",319,71),("G1",255,51),("ENin",476,30),("Nclus",465,18.6)],
 [("G1",305,75),("flow",256,69),("ENin",455,69.5),("Nclus",307,39.6),("G2",466,9.5)],
]

C_G1, C_G2, C_FLOW, C_NC, C_EN = "#2B4BF2", "#84BDC2", "#FF6B60", "#77982E", "#D6FF00"
COL = {"G1": C_G1, "G2": C_G2, "flow": C_FLOW, "Nclus": C_NC, "ENin": C_EN}
GREY, GRID = "#5F5F5F", "#CBCBCB"
FONT = "Liberation Sans"
MARK = 17


def expand(items):
    out = []
    for it in items:
        if isinstance(it, tuple):
            out.extend(range(it[0], it[1] + 1, 4))
            out.append(it[1])
        else:
            out.append(it)
    return out


def rows_xy(rows, top):
    pts = sorted((t, lv / top * 100) for lv, items in rows for t in expand(items))
    return [p[0] for p in pts], [p[1] for p in pts]


def merge(t1, y1, t2, y2):
    pts = sorted(list(zip(t1, y1)) + list(zip(t2, y2)))
    return [p[0] for p in pts], [p[1] for p in pts]


def rgba(hex_color, a):
    return "rgba(%d,%d,%d,%g)" % (int(hex_color[1:3], 16), int(hex_color[3:5], 16), int(hex_color[5:7], 16), a)


fig = go.Figure()
layout = {}
anns, shapes = [], []
ax_n = 0


def px(x):
    return (x - PAGE) / (W - PAGE)


def py(y):
    return 1 - (y - PAGE) / (H - PAGE)


def new_axes():
    global ax_n
    ax_n += 1
    s = "" if ax_n == 1 else str(ax_n)
    return "x" + s, "y" + s, "xaxis" + s, "yaxis" + s


def text(x, y, s, size, color):
    anns.append(dict(xref="paper", yref="paper", x=px(x), y=py(y), text=s, showarrow=False,
                     font=dict(size=size, color=color, family=FONT), xanchor="center", yanchor="middle"))


def dots(xa, ya, x, y, color, size=14, line=True):
    fig.add_trace(go.Scatter(x=x, y=y, xaxis=xa, yaxis=ya, mode="lines+markers" if line else "markers",
                             marker=dict(color=color, size=size, line=dict(width=0)),
                             line=dict(color=rgba(color, 0.4), width=0.7) if line else None,
                             showlegend=False, hoverinfo="skip"))


def curve(xa, ya, x, y, color, width):
    fig.add_trace(go.Scatter(x=x, y=y, xaxis=xa, yaxis=ya, mode="lines",
                             line=dict(color=color, width=width, shape="spline", smoothing=0.8),
                             showlegend=False, hoverinfo="skip"))


def main_panel(i, flow_xy, g1_xy, nc, g2, en):
    x0, top = X0[i], TOP[i]
    xa, ya, xk, yk = new_axes()
    bottom = top + 662
    layout[xk] = dict(domain=[px(x0 - 10.6), px(x0 + 1072.4)], range=[-5.05, 510.6], anchor=ya, showgrid=False, zeroline=False,
                      showline=True, linecolor="#5A5A5A", linewidth=1.5, mirror="ticks", ticks="inside", ticklen=12, tickwidth=1.5,
                      tickcolor="#5A5A5A", tickvals=[0, 100, 200, 300, 400, 500],
                      minor=dict(dtick=20, tick0=0, ticks="inside", ticklen=6, tickcolor="#5A5A5A", tickwidth=1),
                      tickfont=dict(size=36, color=GREY, family=FONT))
    layout[yk] = dict(domain=[py(bottom), py(top)], range=[0, 107.7], anchor=xa, showgrid=False, zeroline=False,
                      showline=False, showticklabels=False, ticks="")
    dots(xa, ya, g1_xy[0], g1_xy[1], C_G1, MARK)
    dots(xa, ya, *rows_xy(g2[0], g2[1]), C_G2, MARK)
    if ALG[i] == "LQF":
        curve(xa, ya, flow_xy[0], flow_xy[1], C_FLOW, 16)
    else:
        dots(xa, ya, flow_xy[0], flow_xy[1], C_FLOW, MARK)
    dots(xa, ya, *rows_xy(nc[0], nc[1]), C_NC, MARK)
    dots(xa, ya, *rows_xy(en[0], en[1]), C_EN, MARK)
    for name, t, v in LABELS[i]:
        anns.append(dict(xref=xa, yref=ya, x=t, y=v, text=name, showarrow=False, bgcolor="rgba(255,255,255,0.72)",
                         borderpad=17, font=dict(size=41, color=COL[name], family=FONT)))
    cx = x0 + 535
    text(cx, top - 91, f"<i>k<sub>c</sub></i> ={KC[i]}", 35, GREY)
    text(cx, top - 41, f"nC12_n10_<i>λ</i> = 0.5, p = 0.1, k0 = 0.02, k1 = 0.7, T = 500, {ALG[i]}", 36, GREY)
    text(cx, bottom + 85, "time, in cycles", 35.5, GREY)


def inset_axes(xk, yk, xa, ya, xdom, ydom, xr, yr, xticks, yticks, xfmt, yfmt, xminor, yminor):
    layout[xk] = dict(domain=xdom, range=xr, anchor=ya, zeroline=False, showline=True, linecolor="#555555", linewidth=1.5,
                      showgrid=True, gridcolor=GRID, gridwidth=1.5, tickvals=xticks, tickformat=xfmt, ticks="inside", ticklen=7,
                      tickcolor="#555555", ticklabelstandoff=2, tickfont=dict(size=30, color="#111111", family=FONT),
                      minor=dict(dtick=xminor, ticks="inside", ticklen=4, tickcolor="#555555", showgrid=False))
    layout[yk] = dict(domain=ydom, range=yr, anchor=xa, zeroline=False, showline=True, linecolor="#555555", linewidth=1.5,
                      showgrid=True, gridcolor=GRID, gridwidth=1.5, tickvals=yticks, tickformat=yfmt, ticks="inside", ticklen=7,
                      tickcolor="#555555", ticklabelstandoff=4, tickfont=dict(size=30, color="#111111", family=FONT),
                      minor=dict(dtick=yminor, ticks="inside", ticklen=4, tickcolor="#555555", showgrid=False))


def insets(i, v_xy, q_xy, qk_xy, qk_top, with14, scatter):
    x0, top = X0[i], TOP[i]
    off = 0 if ALG[i] == "RND" else 1.5
    xa, ya, xk, yk = new_axes()
    inset_axes(xk, yk, xa, ya, [px(x0 + 1185.4 + off), px(x0 + 1562.4 + off)], [py(top + 233.7), py(top + 4.3)],
               [-9.6, 509.6], [0, 0.743], [0, 100, 200, 300, 400, 500], [.1, .2, .3, .4, .5, .6, .7], "d", ".1f", 20, .02)
    fig.add_trace(go.Scatter(x=K_T, y=K_Y, xaxis=xa, yaxis=ya, mode="lines", line=dict(color="#5B80BE", width=2.5),
                             showlegend=False, hoverinfo="skip"))
    for (x, y), c in ((v_xy, "#93B033"), (q_xy, "#E79A25")):
        if scatter:
            dots(xa, ya, x, y, c, 3, line=False)
        else:
            curve(xa, ya, x, y, c, 2.5)
    xa, ya, xk, yk = new_axes()
    yt = [.02, .04, .06, .08, .10, .12] + ([.14] if with14 else [])
    inset_axes(xk, yk, xa, ya, [px(x0 + 1200 + off), px(x0 + 1646.4 + off)], [py(top + 610.7), py(top + 341.2)],
               [-0.0127, 0.696], [0, qk_top], [0, .1, .2, .3, .4, .5, .6], yt, ".1f", ".2f", .02, .005)
    if scatter:
        dots(xa, ya, qk_xy[0], qk_xy[1], "#5B80BE", 3, line=False)
    else:
        curve(xa, ya, qk_xy[0], qk_xy[1], "#5B80BE", 2.5)
    lx = x0 + 1562.4 + off
    for dy0, dy1, s in ((22.7, 22.7, "k"), (186, 181, "v"), (197, 201, "q")):
        shapes.append(dict(type="line", xref="paper", yref="paper", x0=px(lx), x1=px(lx + 47), y0=py(top + dy0), y1=py(top + dy1),
                           line=dict(color="#B5B5B5", width=3.5)))
        text(lx + 61, top + dy1 + (2 if s == "q" else 0), s, 30, "#111111")
    text(lx + 53, top + 235, "time", 29, "#808080")
    text(x0 + 1208 + off, top + 309, "q", 31, "#808080")
    text(x0 + 1677 + off, top + 612, "k", 31, "#808080")


def with_spans(t, y, spans, level):
    pts = list(zip(t, y)) + [(s, level) for s in expand(spans)]
    pts.sort()
    return [p[0] for p in pts], [p[1] for p in pts]


RND = [(A_flow, A_flow2, A_g1, A_g1_2, (A_nc, A_nc_top), (A_g2, A_g2_top), (A_en, A_en_top)),
       (B_flow, B_flow2, B_g1, B_g1_2, (B_nc, B_nc_top), (B_g2, B_g2_top), (B_en, B_en_top)),
       (C_flow, C_flow2, C_g1, C_g1_2, (C_nc, C_nc_top), (C_g2, C_g2_top), (C_en, C_en_top)),
       (D_flow, D_flow2, D_g1, D_g1_2, (D_nc, D_nc_top), (D_g2, D_g2_top), (D_en, D_en_top))]
rnd_v = merge(T4, RND_v, T4B, RND_v2)
rnd_q = merge(T4, RND_q, T4B, RND_q2)
rnd_qk = (np.interp(rnd_q[0], K_T, K_Y).tolist(), rnd_q[1])
for i, (fl, fl2, g1, g12, nc, g2, en) in enumerate(RND):
    main_panel(i, merge(T4, fl, T4B, fl2), merge(T4, g1, T4B, g12), nc, g2, en)
    insets(i, rnd_v, rnd_q, rnd_qk, 0.1428, True, True)


def lqf_g1(t, y, zero, plateau):
    a = with_spans(t, y, zero, 0)
    return with_spans(a[0], a[1], plateau, 98.8)


g1_g = lqf_g1(G_g1_t, G_g1_y, G_g1_zero, G_g1_plateau)
g1_g = with_spans(g1_g[0], g1_g[1], G_g1_shelf, 70.5)
LQF = [(E_flow_t, E_flow_y, lqf_g1(E_g1_t, E_g1_y, E_g1_zero, E_g1_plateau), (E_nc, E_nc_top), (E_g2, E_g2_top), (E_en, E_en_top),
        (E_v_t, E_v), (E_q_t, E_q), (E_qk_k, E_qk_q), .1394, False),
       (F_flow_t, F_flow_y, lqf_g1(F_g1_t, F_g1_y, F_g1_zero, F_g1_plateau), (F_nc, F_nc_top), (F_g2, F_g2_top), (F_en, F_en_top),
        (F_v_t, F_v), (E_q_t, F_q), (F_qk_k, F_qk_q), .1394, False),
       (G_flow_t, G_flow_y, g1_g, (G_nc, G_nc_top), (G_g2, G_g2_top), (G_en, G_en_top),
        (G_v_t, G_v), (E_q_t, G_q), (G_qk_k, G_qk_q), .1428, True),
       (H_flow_t, H_flow_y, lqf_g1(H_g1_t, H_g1_y, H_g1_zero, H_g1_plateau), (H_nc, H_nc_top), (H_g2, H_g2_top), (H_en, H_en_top),
        (H_v_t, H_v), (H_q_t, H_q), (H_qk_k, H_qk_q), .1394, False)]
for j, (ft, fy, g1, nc, g2, en, v, q, qk, qt, w14) in enumerate(LQF):
    main_panel(4 + j, (ft, fy), g1, nc, g2, en)
    insets(4 + j, v, q, qk, qt, w14, False)

fig.update_layout(width=W - PAGE, height=H - PAGE, margin=dict(l=0, r=0, t=0, b=0, autoexpand=False), paper_bgcolor="white",
                  plot_bgcolor="white", showlegend=False, annotations=anns, shapes=shapes, font=dict(family=FONT), **layout)
fig.write_html("out.html", config={"displayModeBar": False})
